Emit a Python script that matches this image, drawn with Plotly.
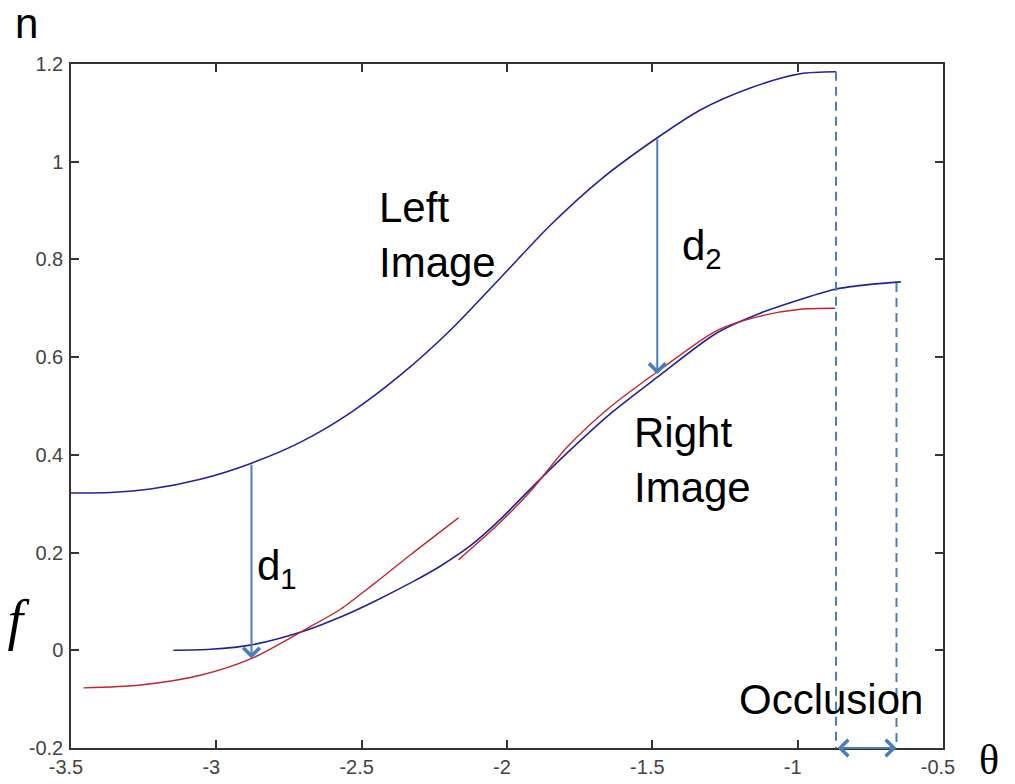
import plotly.graph_objects as go

# ---- data ----
left_x = [-3.5, -3.364, -3.227, -3.055, -2.879, -2.710, -2.539, -2.367, -2.195, -2.023,
          -1.851, -1.679, -1.483, -1.335, -1.163, -0.991, -0.868]
left_y = [0.322, 0.323, 0.330, 0.350, 0.383, 0.426, 0.486, 0.563, 0.655, 0.762,
          0.870, 0.963, 1.049, 1.106, 1.151, 1.180, 1.184]

right_blue_x = [-3.148, -3.020, -2.879, -2.690, -2.573, -2.460, -2.322, -2.230, -2.126, -2.023,
                -1.920, -1.793, -1.645, -1.483, -1.277, -1.129, -0.991, -0.871, -0.750, -0.645]
right_blue_y = [0.000, 0.002, 0.011, 0.041, 0.068, 0.099, 0.141, 0.172, 0.214, 0.268,
                0.330, 0.404, 0.484, 0.559, 0.650, 0.690, 0.718, 0.739, 0.749, 0.754]

red1_x = [-3.457, -3.261, -3.055, -2.876, -2.687, -2.573, -2.460, -2.333, -2.167]
red1_y = [-0.077, -0.071, -0.051, -0.016, 0.045, 0.084, 0.135, 0.195, 0.271]

red2_x = [-2.167, -2.023, -1.920, -1.793, -1.645, -1.483, -1.277, -1.129, -0.991, -0.871]
red2_y = [0.185, 0.262, 0.325, 0.416, 0.498, 0.570, 0.655, 0.684, 0.698, 0.700]

d1_x, d1_top, d1_bottom = -2.879, 0.383, -0.017
d2_x, d2_top, d2_bottom = -1.483, 1.049, 0.565
occl_left_x, occl_right_x = -0.868, -0.66
occl_left_top, occl_right_top = 1.184, 0.752
axis_bottom = -0.2

x_ticks = [-3.5, -3, -2.5, -2, -1.5, -1, -0.5]
x_tick_labels = ["-3.5", "-3", "-2.5", "-2", "-1.5", "-1", "-0.5"]
y_ticks = [-0.2, 0, 0.2, 0.4, 0.6, 0.8, 1.0, 1.2]
y_tick_labels = ["-0.2", "0", "0.2", "0.4", "0.6", "0.8", "1", "1.2"]

BLUE = "#22229a"
RED = "#c0262c"
ANN = "#4a7ebb"
TXT_FONT = "Liberation Sans, Arial, sans-serif"

fig = go.Figure()
curve = dict(mode="lines")
fig.add_trace(go.Scatter(x=left_x, y=left_y, line=dict(color=BLUE, width=1.6, shape="spline", smoothing=0.8), **curve))
fig.add_trace(go.Scatter(x=right_blue_x, y=right_blue_y, line=dict(color=BLUE, width=1.6, shape="spline", smoothing=0.8), **curve))
fig.add_trace(go.Scatter(x=red1_x, y=red1_y, line=dict(color=RED, width=1.4, shape="spline", smoothing=0.8), **curve))
fig.add_trace(go.Scatter(x=red2_x, y=red2_y, line=dict(color=RED, width=1.4, shape="spline", smoothing=0.8), **curve))

# dashed occlusion boundaries
fig.add_trace(go.Scatter(x=[occl_left_x, occl_left_x], y=[occl_left_top, axis_bottom], mode="lines",
                         line=dict(color=ANN, width=2, dash="9px,6px"), cliponaxis=False))
fig.add_trace(go.Scatter(x=[occl_right_x, occl_right_x], y=[occl_right_top, axis_bottom], mode="lines",
                         line=dict(color=ANN, width=2, dash="9px,6px"), cliponaxis=False))

# arrows
arrow_common = dict(xref="x", yref="y", axref="x", ayref="y", showarrow=True, text="",
                    arrowcolor=ANN, arrowwidth=2, arrowhead=4, arrowsize=1.6, standoff=0)
fig.add_annotation(x=d1_x, y=d1_bottom, ax=d1_x, ay=d1_top, **arrow_common)
fig.add_annotation(x=d2_x, y=d2_bottom, ax=d2_x, ay=d2_top, **arrow_common)
fig.add_annotation(x=occl_right_x, y=axis_bottom, ax=occl_left_x, ay=axis_bottom,
                   arrowside="end+start", startarrowhead=4, startarrowsize=1.6, **arrow_common)

# text labels
big = dict(family=TXT_FONT, size=42, color="black")
fig.add_annotation(x=-2.446, y=0.85, xref="x", yref="y", text="Left<br>Image", showarrow=False,
                   xanchor="left", yanchor="middle", align="left", font=big)
fig.add_annotation(x=-1.569, y=0.389, xref="x", yref="y", text="Right<br>Image", showarrow=False,
                   xanchor="left", yanchor="middle", align="left", font=big)
fig.add_annotation(x=-1.404, y=0.823, xref="x", yref="y", text="d<sub>2</sub>", showarrow=False,
                   xanchor="left", yanchor="middle", font=big)
fig.add_annotation(x=-2.866, y=0.168, xref="x", yref="y", text="d<sub>1</sub>", showarrow=False,
                   xanchor="left", yanchor="middle", font=big)
fig.add_annotation(x=-0.885, y=-0.1, xref="x", yref="y", text="Occlusion", showarrow=False,
                   xanchor="center", yanchor="middle", font=big)

fig.add_annotation(x=-0.0505, y=1.06, xref="paper", yref="paper", text="n", showarrow=False,
                   xanchor="center", yanchor="middle", font=big, height=30, borderpad=0)
fig.add_annotation(x=-0.06, y=0.187, xref="paper", yref="paper", text="<i>f</i>", showarrow=False,
                   xanchor="center", yanchor="middle", width=22, borderpad=0,
                   font=dict(family="Liberation Serif, serif", size=56, color="black"))
fig.add_annotation(x=1.053, y=-0.0175, xref="paper", yref="paper", text="θ", showarrow=False,
                   xanchor="center", yanchor="middle",
                   font=dict(family="Liberation Serif, serif", size=42, color="black"))

axis_common = dict(showgrid=False, zeroline=False, showline=True, linecolor="#333333", linewidth=1.5,
                   mirror="ticks", ticks="inside", ticklen=8, tickwidth=1.5, tickcolor="#333333",
                   automargin=False,
                   tickfont=dict(family=TXT_FONT, size=20, color="#444444"))
fig.update_xaxes(range=[-3.5, -0.5], tickvals=x_ticks, ticktext=x_tick_labels,
                 ticklabelstandoff=0, ticklabelshift=-5, **axis_common)
fig.update_yaxes(range=[-0.2, 1.2], tickvals=y_ticks, ticktext=y_tick_labels,
                 ticklabelstandoff=2, **axis_common)

# page body has an 8px default margin, so the figure is 8px smaller and shifted
fig.update_layout(width=1007, height=776, showlegend=False,
                  margin=dict(l=63, r=72, t=56, b=36, autoexpand=False),
                  paper_bgcolor="white", plot_bgcolor="white")

fig.write_html("out.html")
